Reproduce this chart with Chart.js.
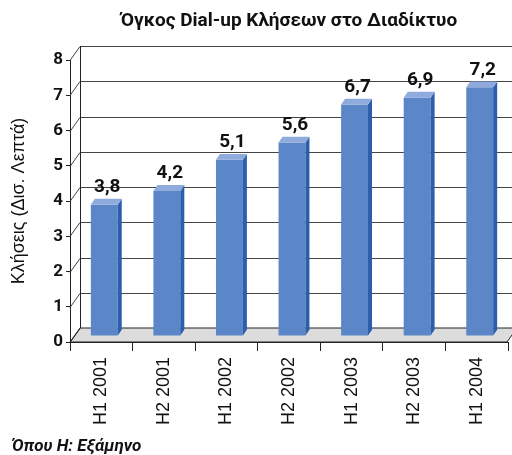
<!DOCTYPE html>
<html>
<head>
<meta charset="utf-8">
<script src="https://cdn.jsdelivr.net/npm/chart.js@4/dist/chart.umd.min.js"></script>
<style>
html,body{margin:0;padding:0;background:#fff;}
#wrap{width:512px;height:455px;position:relative;}
</style>
</head>
<body>
<div id="wrap"><canvas id="c" width="512" height="455"></canvas></div>
<script>
const categories = ["H1 2001","H2 2001","H1 2002","H2 2002","H1 2003","H2 2003","H1 2004"];
const values = [3.8, 4.2, 5.1, 5.6, 6.7, 6.9, 7.2];
const yTicks = [0,1,2,3,4,5,6,7,8];
const titleText = "Όγκος Dial-up Κλήσεων στο Διαδίκτυο";
const yTitle = "Κλήσεις (Δισ. Λεπτά)";
const footnote = "Όπου Η: Εξάμηνο";

const WALL_DX = 10, WALL_DY = -14;   // back wall depth offset
const BAR_DX = 4, BAR_DY = -6;       // bar depth
const FRONT = '#5B86C8', TOP = '#8FAADC', SIDE = '#2B5EAC';

const threeD = {
  id: 'threeD',
  beforeDatasetsDraw(chart) {
    const ctx = chart.ctx, a = chart.chartArea, ys = chart.scales.y;
    const y0 = ys.getPixelForValue(0);
    ctx.save();
    // floor
    ctx.beginPath();
    ctx.moveTo(a.left, y0);
    ctx.lineTo(a.right - 1, y0);
    ctx.lineTo(a.right - 1 + WALL_DX, y0 + WALL_DY);
    ctx.lineTo(a.left + WALL_DX, y0 + WALL_DY);
    ctx.closePath();
    ctx.fillStyle = '#DCDCDC';
    ctx.fill();
    ctx.strokeStyle = '#222';
    ctx.lineWidth = 1;
    ctx.stroke();
    // back wall grid lines + diagonals
    yTicks.forEach(v => {
      const yf = Math.round(ys.getPixelForValue(v)) + 0.5;
      ctx.beginPath();
      ctx.moveTo(a.left, yf);
      ctx.lineTo(a.left + WALL_DX, yf + WALL_DY);
      if (v > 0) ctx.lineTo(chart.width, yf + WALL_DY);
      ctx.strokeStyle = v === 0 ? '#222' : '#444';
      ctx.stroke();
    });
    // back wall left edge
    ctx.beginPath();
    ctx.moveTo(a.left + WALL_DX + 0.5, ys.getPixelForValue(8) + WALL_DY);
    ctx.lineTo(a.left + WALL_DX + 0.5, y0 + WALL_DY);
    ctx.strokeStyle = '#222';
    ctx.stroke();
    ctx.restore();
    // shift bars to mid depth
    ctx.save();
    ctx.transform(1, 0, 0, 0.98, 3, 0.84);
  },
  afterDatasetsDraw(chart) {
    const ctx = chart.ctx;
    const meta = chart.getDatasetMeta(0);
    meta.data.forEach((bar, i) => {
      const p = bar.getProps(['x','y','base','width'], true);
      const l = p.x - p.width/2, r = p.x + p.width/2;
      // side
      ctx.beginPath();
      ctx.moveTo(r, p.y);
      ctx.lineTo(r + BAR_DX, p.y + BAR_DY);
      ctx.lineTo(r + BAR_DX, p.base + BAR_DY);
      ctx.lineTo(r, p.base);
      ctx.closePath();
      ctx.fillStyle = SIDE; ctx.fill();
      // top
      ctx.beginPath();
      ctx.moveTo(l, p.y);
      ctx.lineTo(r, p.y);
      ctx.lineTo(r + BAR_DX, p.y + BAR_DY);
      ctx.lineTo(l + BAR_DX, p.y + BAR_DY);
      ctx.closePath();
      ctx.fillStyle = TOP; ctx.fill();
      // label
      ctx.fillStyle = '#111';
      ctx.font = 'bold 19px Roboto, "Liberation Sans", sans-serif';
      ctx.textAlign = 'center';
      ctx.textBaseline = 'alphabetic';
      ctx.fillText(values[i].toFixed(1).replace('.', ','), p.x + 3, p.y + BAR_DY - 7);
    });
    ctx.restore();
  },
  afterDraw(chart) {
    const ctx = chart.ctx;
    ctx.save();
    ctx.fillStyle = '#111';
    ctx.font = 'italic bold 17px Roboto, "Liberation Sans", sans-serif';
    ctx.textAlign = 'left';
    ctx.textBaseline = 'middle';
    ctx.fillText(footnote, 12, 447);
    ctx.restore();
  }
};

new Chart(document.getElementById('c'), {
  type: 'bar',
  data: {
    labels: categories,
    datasets: [{
      data: values,
      backgroundColor: FRONT,
      borderWidth: 0,
      barPercentage: 0.43,
      categoryPercentage: 1
    }]
  },
  options: {
    responsive: false,
    animation: false,
    layout: { padding: { left: 0, right: 4, top: 0, bottom: 0 } },
    plugins: {
      legend: { display: false },
      tooltip: { enabled: false },
      title: {
        display: true,
        text: titleText,
        fullSize: false,
        color: '#111',
        font: { family: 'Roboto, "Liberation Sans", sans-serif', size: 19, weight: 'bold' },
        padding: { top: 10, bottom: 27.2 }
      }
    },
    scales: {
      x: {
        offset: true,
        grid: { display: true, drawOnChartArea: false, offset: true, tickLength: 9, color: '#222', tickColor: '#222' },
        border: { display: true, color: '#222' },
        ticks: {
          color: '#111', minRotation: 90, maxRotation: 90, padding: 6,
          font: { family: '"Liberation Sans", Arial, sans-serif', size: 18 }
        },
        afterFit(s) { s.height = 113; }
      },
      y: {
        min: 0, max: 8,
        grid: { display: true, drawOnChartArea: false, tickLength: 4, color: '#222', tickColor: '#222' },
        border: { display: true, color: '#222' },
        ticks: {
          stepSize: 1, color: '#111', padding: 3,
          font: { family: 'Roboto, "Liberation Sans", sans-serif', size: 17, weight: 'bold' }
        },
        title: {
          display: true, text: yTitle, color: '#111',
          font: { family: '"Liberation Sans", Arial, sans-serif', size: 18 },
          padding: { top: 8, bottom: 0 }
        },
        afterFit(s) { s.width = 70; }
      }
    }
  },
  plugins: [threeD]
});
</script>
</body>
</html>
